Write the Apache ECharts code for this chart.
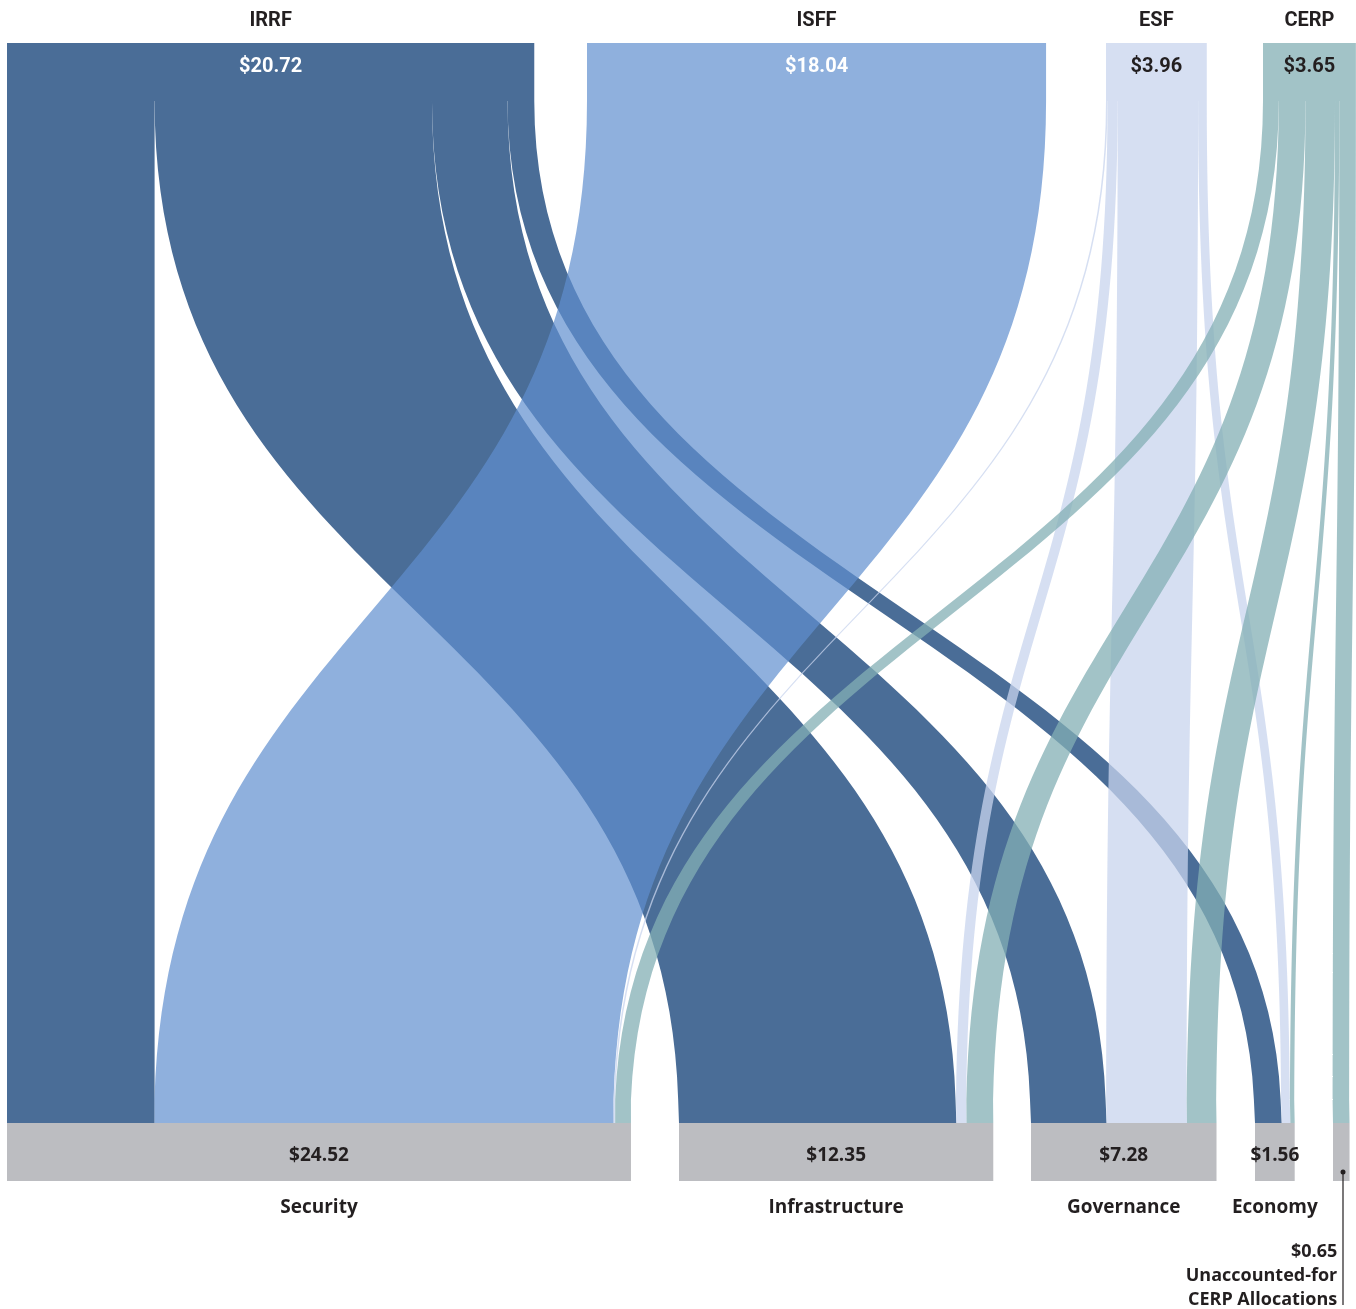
<!DOCTYPE html>
<html><head><meta charset="utf-8">
<script src="https://cdn.jsdelivr.net/npm/echarts@6/dist/echarts.min.js"></script>
<style>html,body{margin:0;padding:0;background:#fff}#c{width:1356px;height:1309px}</style>
</head><body><div id="c"></div>
<script>
// ---- data ----
const sources = ['IRRF', 'ISFF', 'ESF', 'CERP'];
const sourceTotals = ['$20.72', '$18.04', '$3.96', '$3.65'];
const targets = ['Security', 'Infrastructure', 'Governance', 'Economy', 'Unaccounted-for CERP Allocations'];
const targetTotals = ['$24.52', '$12.35', '$7.28', '$1.56', '$0.65'];
// flows from each source to [Security, Infrastructure, Governance, Economy, Unaccounted]
const flowsIRRF = [5.80, 10.90, 2.97, 1.05, 0];
const flowsISFF = [18.04, 0, 0, 0, 0];
const flowsESF  = [0.06, 0.40, 3.16, 0.34, 0];
const flowsCERP = [0.62, 1.05, 1.16, 0.17, 0.65];
const flows = [flowsIRRF, flowsISFF, flowsESF, flowsCERP];

// ---- styling / layout ----
const W = 1356, H = 1309;
const L = 7, R = 1, T = 43, B = 128;
const areaW = W - L - R;
const sourceX = [7, 587, 1106, 1263];          // left edges of source nodes (px)
const targetX = [7, 679, 1031, 1255, 1333];    // left edges of target nodes (px)
const nodeColors = ['#4A6D97', '#8FB0DD', '#D6DFF2', '#A2C3C7'];
const linkColors = ['rgba(74,109,151,1)', 'rgba(95,142,206,0.7)', 'rgba(200,212,238,0.75)', 'rgba(131,175,180,0.75)'];
const FONT = "'Open Sans', 'Noto Sans', sans-serif";
const NARROW = "'Liberation Sans Narrow', Roboto, 'Open Sans', sans-serif";
const TXT = '#231F20';

const nodes = [];
sources.forEach((s, i) => {
  nodes.push({
    name: s, depth: 0,
    localX: (sourceX[i] - L) / areaW,
    itemStyle: { color: nodeColors[i], borderWidth: 0 },
    label: {
      show: true, position: 'inside', offset: [0, -28],
      formatter: '{n|' + s + '}\n{' + (i < 2 ? 'vw' : 'vd') + '|' + sourceTotals[i] + '}'
    }
  });
});
targets.forEach((t, i) => {
  const isUna = i === 4;
  nodes.push({
    name: t, depth: 1,
    localX: (targetX[i] - L) / areaW,
    itemStyle: { color: '#BCBDC1', borderWidth: 0 },
    label: isUna ? {
      show: true, position: 'inside', align: 'right', offset: [-4, 124],
      formatter: '{u|' + targetTotals[i] + '}\n{u|Unaccounted-for}\n{u|CERP Allocations}'
    } : {
      show: true, position: 'inside', offset: [0, 30],
      formatter: '{b|' + targetTotals[i] + '}\n{c|' + t + '}'
    }
  });
});

const links = [];
flows.forEach((row, si) => {
  row.forEach((v, ti) => {
    if (v > 0) links.push({ source: sources[si], target: targets[ti], value: v,
      lineStyle: { color: linkColors[si], opacity: 1 } });
  });
});

const chart = echarts.init(document.getElementById('c'), null, { renderer: 'canvas' });
chart.setOption({
  backgroundColor: '#ffffff',
  animation: false,
  series: [{
    type: 'sankey',
    orient: 'vertical',
    left: L, right: R, top: T, bottom: B,
    nodeWidth: 58,
    nodeGap: 42,
    layoutIterations: 0,
    draggable: false,
    emphasis: { disabled: true },
    data: nodes,
    links: links,
    lineStyle: { curveness: 0.5, opacity: 1 },
    label: {
      show: true,
      rich: {
        n:  { fontFamily: NARROW, fontWeight: 'bold', fontSize: 20, color: TXT, lineHeight: 46, align: 'center' },
        vw: { fontFamily: NARROW, fontWeight: 'bold', fontSize: 20, color: '#ffffff', lineHeight: 46, align: 'center' },
        vd: { fontFamily: NARROW, fontWeight: 'bold', fontSize: 20, color: TXT, lineHeight: 46, align: 'center' },
        b:  { fontFamily: FONT, fontWeight: 'bold', fontSize: 19, color: TXT, lineHeight: 52, align: 'center' },
        c:  { fontFamily: FONT, fontWeight: 'bold', fontSize: 19, color: TXT, lineHeight: 52, align: 'center' },
        u:  { fontFamily: FONT, fontWeight: 'bold', fontSize: 18, color: TXT, lineHeight: 24, align: 'right' }
      }
    }
  }]
});

// leader line for the unaccounted-for CERP node
try {
  const sm = chart.getModel().getSeriesByIndex(0);
  const idx = sources.length + 4;
  const lay = sm.getData().getItemLayout(idx);
  const cx = targetX[4] + Math.max(lay.dx, 20) / 2;
  const nodeTop = H - B - 58;
  chart.setOption({
    graphic: [
      { type: 'line', shape: { x1: cx, y1: nodeTop + 49, x2: cx, y2: H - 4 }, style: { stroke: '#231F20', lineWidth: 1.2 }, z: 100 },
      { type: 'circle', shape: { cx: cx, cy: nodeTop + 49, r: 2.5 }, style: { fill: '#231F20' }, z: 100 }
    ]
  });
} catch (e) { console.error(e); }
</script>
</body></html>
